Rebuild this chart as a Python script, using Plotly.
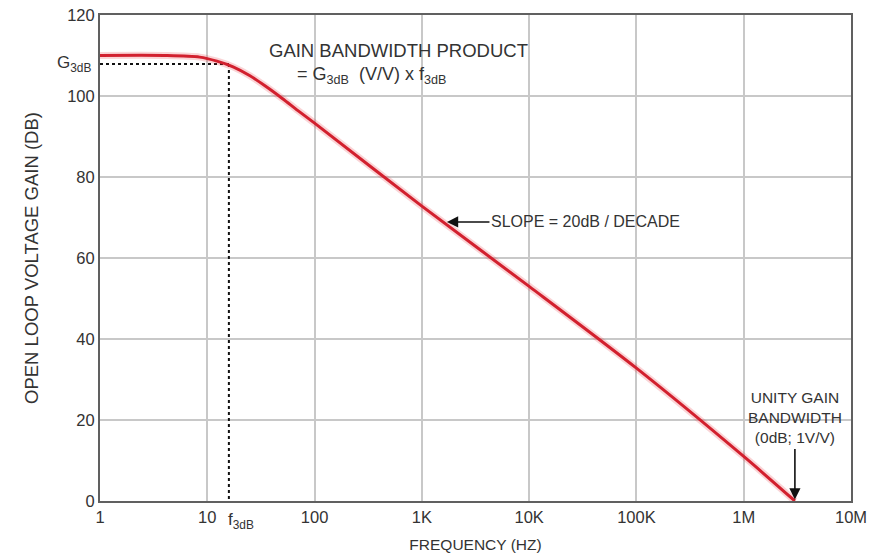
import math
import plotly.graph_objects as go

# Open-loop gain of a single-pole op amp
freq_hz = [1, 4, 8.5, 12.3, 17.4, 25, 35, 50, 70, 100, 1e3, 1e4, 1e5, 1e6, 3.0e6]
gain_db = [110, 110, 109.6, 108.6, 107.2, 105.0, 102.4, 99.4, 96.4, 93.3, 72.8, 53.0, 32.8, 11.0, 0]

# Corner point of the response
f_3db = 15.9
g_3db = 107.9

# Unity-gain crossing
f_unity = 3.0e6

x_tickvals = [1, 10, 100, 1e3, 1e4, 1e5, 1e6, 1e7]
x_ticktext = ["1", "10", "100", "1K", "10K", "100K", "1M", "10M"]
y_tickvals = [0, 20, 40, 60, 80, 100, 120]

TEXT = "#333333"
FONT = "Liberation Sans, Arial, sans-serif"

fig = go.Figure()

# Dotted guides to the corner point
fig.add_trace(go.Scatter(
    x=[1, f_3db], y=[g_3db, g_3db], mode="lines",
    line=dict(color="#111111", width=2, dash="dot"), hoverinfo="skip", showlegend=False))
fig.add_trace(go.Scatter(
    x=[f_3db, f_3db], y=[g_3db, 0], mode="lines",
    line=dict(color="#111111", width=2, dash="dot"), hoverinfo="skip", showlegend=False))

# Soft halo under the gain curve
fig.add_trace(go.Scatter(
    x=freq_hz, y=gain_db, mode="lines", line_shape="spline",
    line=dict(color="rgba(230,60,70,0.22)", width=7, smoothing=0.8), hoverinfo="skip", showlegend=False))
fig.add_trace(go.Scatter(
    x=freq_hz, y=gain_db, mode="lines", line_shape="spline",
    line=dict(color="#d2202e", width=3, smoothing=0.8), showlegend=False))

ann = []
ann.append(dict(x=1.174, y=0, xref="x", yref="y", yshift=-20,
                text="f<sub>3dB</sub>", showarrow=False,
                font=dict(size=17, color=TEXT, family=FONT), xanchor="left", yanchor="middle"))
ann.append(dict(x=0, y=g_3db, xref="paper", yref="y", xshift=-7,
                text="G<sub>3dB</sub>", showarrow=False,
                font=dict(size=17, color=TEXT, family=FONT), xanchor="right", yanchor="middle"))
ann.append(dict(x=1.56, y=111.2, xref="x", yref="y",
                text="GAIN BANDWIDTH PRODUCT", showarrow=False,
                font=dict(size=18.5, color=TEXT, family=FONT), xanchor="left", yanchor="middle"))
ann.append(dict(x=1.82, y=105.0, xref="x", yref="y",
                text="= G<sub>3dB</sub>  (V/V) x f<sub>3dB</sub>", showarrow=False,
                font=dict(size=18, color=TEXT, family=FONT), xanchor="left", yanchor="middle"))
ann.append(dict(x=3.234, y=68.9, xref="x", yref="y",
                text="", showarrow=True, ax=44, ay=0, axref="pixel", ayref="pixel",
                arrowhead=2, arrowsize=1.4, arrowwidth=1.6, arrowcolor="#111111"))
ann.append(dict(x=3.63, y=68.9, xref="x", yref="y",
                text="SLOPE = 20dB / DECADE", showarrow=False,
                font=dict(size=16, color=TEXT, family=FONT), xanchor="left", yanchor="middle"))
ann.append(dict(x=math.log10(f_unity), y=20.5, xref="x", yref="y",
                text="UNITY GAIN<br>BANDWIDTH<br>(0dB; 1V/V)", showarrow=False, align="center",
                font=dict(size=15.5, color=TEXT, family=FONT), xanchor="center", yanchor="middle"))
ann.append(dict(x=math.log10(f_unity), y=0.4, xref="x", yref="y",
                text="", showarrow=True, ax=0, ay=-52, axref="pixel", ayref="pixel",
                arrowhead=2, arrowsize=1.4, arrowwidth=1.6, arrowcolor="#111111"))

fig.update_layout(
    width=878, height=556,
    margin=dict(l=100, r=27, t=15, b=55),
    paper_bgcolor="white", plot_bgcolor="white",
    font=dict(family=FONT, size=16, color=TEXT),
    annotations=ann,
    showlegend=False,
)
fig.update_xaxes(
    type="log", range=[0, 7], automargin=False,
    tickvals=x_tickvals, ticktext=x_ticktext,
    showgrid=True, gridcolor="#c8c8c8", gridwidth=1.5,
    showline=True, linecolor="#606060", linewidth=2, mirror=True,
    ticks="", zeroline=False,
    title=dict(text="FREQUENCY (HZ)", font=dict(size=15.5, color=TEXT), standoff=14),
    tickfont=dict(size=16.5, color=TEXT),
)
fig.update_yaxes(
    range=[0, 120], tickvals=y_tickvals, automargin=False,
    showgrid=True, gridcolor="#c8c8c8", gridwidth=1.5,
    showline=True, linecolor="#606060", linewidth=2, mirror=True,
    ticks="", zeroline=False,
    title=dict(text="OPEN LOOP VOLTAGE GAIN (DB)", font=dict(size=18.5, color=TEXT), standoff=24),
    tickfont=dict(size=16.5, color=TEXT),
)

fig.write_html("out.html")
